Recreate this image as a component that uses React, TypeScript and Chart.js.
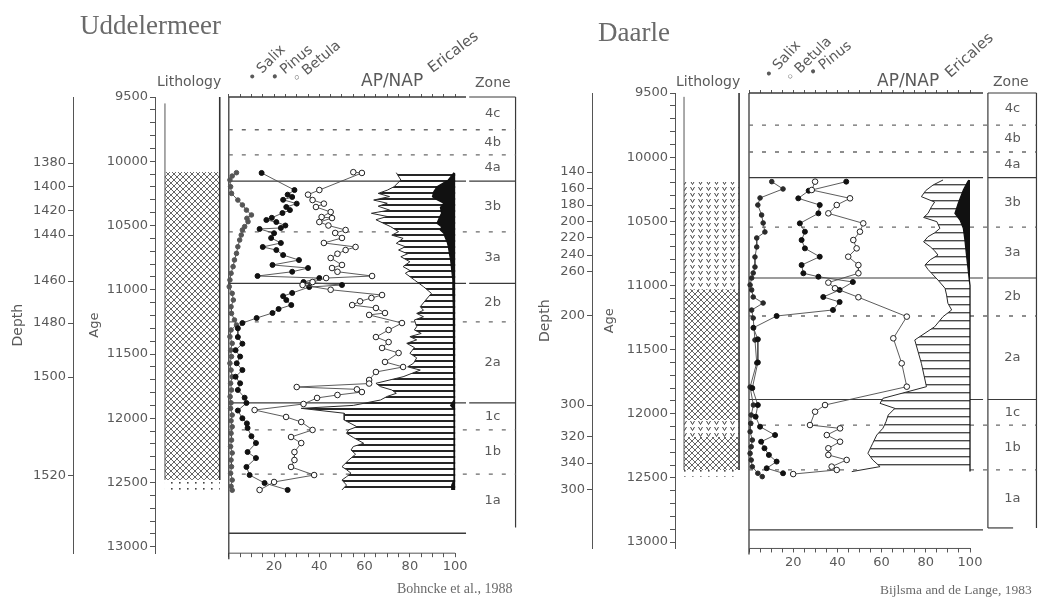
import React, { useEffect, useRef } from "react";
import { Chart, registerables } from "chart.js";

Chart.register(...registerables);

// ---------------- shared axis / zone definitions ----------------
const AGE_MIN = 9500;
const AGE_MAX = 13050;
const AGE_LABEL_STEP = 500;
const AGE_TICKS: number[] = [];
for (let a = 9500; a <= 13000; a += 100) AGE_TICKS.push(a);
const X_TICKS = [0, 5, 10, 15, 20, 25, 30, 35, 40, 45, 50, 55, 60, 65, 70, 75, 80, 85, 90, 95, 100];
const X_LABELS = [20, 40, 60, 80, 100];
const ZONE_NAMES = ["4c", "4b", "4a", "3b", "3a", "2b", "2a", "1c", "1b", "1a"];
const ZONE_BOUNDARY_SOLID = [false, false, true, false, true, false, true, false, false];

// ---------------- Uddelermeer ----------------
const U_ZONE_BOUNDS = [9500, 9755, 9950, 10155, 10550, 10950, 11250, 11880, 12090, 12435, 12850];
const U_DEPTH_LABELS = ["1380", "1400", "1420", "1440", "1460", "1480", "1500", "1520"];
const U_DEPTH_AGES = [10014, 10200, 10387, 10574, 10932, 11259, 11679, 12449];
const U_LITHO_TOP = [10084, 12480];
const U_LITHO_BOTTOM = [12480, 12575];
const U_LITHO_TYPE = ["cross", "dots"];

const U_SALIX_AGE = [10089, 10115, 10146, 10198, 10250, 10302, 10340, 10380, 10418, 10444, 10470, 10509, 10535, 10574, 10613, 10665, 10717, 10768, 10820, 10872, 10924, 10976, 11028, 11080, 11132, 11184, 11235, 11274, 11313, 11365, 11417, 11470, 11520, 11572, 11625, 11677, 11728, 11780, 11832, 11880, 11923, 11975, 12020, 12066, 12117, 12170, 12220, 12270, 12325, 12377, 12428, 12481, 12530, 12560];
const U_SALIX = [3.4, 1.5, 0.5, 0.8, 1.2, 4, 6, 7.8, 10, 8, 8.5, 7, 6, 5.5, 4.8, 4, 3.4, 2.5, 1.9, 1, 0.5, 0.2, 1.5, 2, 1, 1.2, 2.5, 3.4, 1, 0.5, 1.5, 0.8, 1.2, 0.5, 1, 1.5, 0.8, 1.2, 0.6, 1, 0.8, 1.5, 1, 1.5, 1, 1.2, 0.8, 1.5, 1, 1.2, 0.8, 1.5, 1, 1.5];

const U_PINUS_AGE = [10091, 10224, 10260, 10278, 10300, 10330, 10356, 10380, 10403, 10440, 10457, 10473, 10500, 10519, 10527, 10560, 10597, 10636, 10667, 10691, 10730, 10769, 10807, 10831, 10860, 10893, 10909, 10940, 10963, 10979, 11025, 11050, 11080, 11119, 11150, 11181, 11220, 11259, 11300, 11368, 11420, 11470, 11520, 11572, 11625, 11677, 11728, 11780, 11840, 11881, 11940, 12000, 12040, 12076, 12140, 12193, 12263, 12310, 12379, 12442, 12504, 12558];
const U_PINUS = [14.5, 29, 26, 28, 24, 30, 25.4, 27, 23.7, 19, 16.6, 21, 25, 23, 13.6, 20, 18.7, 23, 15, 21, 24, 31, 19.3, 35, 28, 12.7, 40, 33, 50, 35.5, 28, 24, 25.4, 27.6, 22, 19.3, 12.3, 6, 4, 4, 6, 3, 5, 3.5, 6, 3, 5, 4, 7, 7.8, 4, 6, 8, 8.3, 10, 12, 8.3, 12, 7.8, 9.2, 15.8, 26];

const U_BETULA_AGE = [10085, 10091, 10224, 10260, 10302, 10330, 10356, 10395, 10434, 10442, 10473, 10500, 10535, 10558, 10597, 10636, 10667, 10691, 10720, 10753, 10807, 10831, 10860, 10893, 10909, 10940, 10963, 11000, 11041, 11064, 11090, 11119, 11142, 11181, 11196, 11259, 11313, 11368, 11407, 11453, 11492, 11562, 11601, 11640, 11702, 11730, 11757, 11775, 11796, 11819, 11842, 11889, 11936, 11990, 12029, 12091, 12146, 12193, 12263, 12325, 12379, 12442, 12496, 12558];
const U_BETULA = [55, 58.8, 40, 35, 37, 42, 38.5, 45, 41, 45.6, 40, 44, 51.6, 47, 50, 42, 56, 51.6, 48, 45, 50, 45.6, 48, 63.3, 43, 37, 32.6, 45, 67.7, 63, 58, 54.5, 65, 69, 62, 76.5, 70.6, 65, 70.6, 67.7, 75, 69, 77, 65, 62, 62, 30, 56.6, 58.8, 48, 39, 33, 11.4, 25.3, 32, 37, 27.5, 32, 29, 29, 27.5, 37.7, 20, 13.6];

const U_AP_AGE = [10089, 10146, 10198, 10225, 10250, 10275, 10302, 10327, 10350, 10380, 10405, 10430, 10455, 10480, 10509, 10548, 10575, 10600, 10639, 10665, 10691, 10720, 10743, 10782, 10820, 10850, 10872, 10924, 10976, 11028, 11080, 11132, 11160, 11184, 11210, 11235, 11287, 11313, 11340, 11365, 11390, 11417, 11450, 11495, 11530, 11572, 11600, 11625, 11677, 11728, 11754, 11780, 11806, 11830, 11858, 11900, 11923, 11961, 12014, 12066, 12090, 12117, 12150, 12195, 12220, 12247, 12280, 12325, 12377, 12400, 12428, 12455, 12481, 12520, 12558];
const U_AP = [74, 76, 73, 70, 66, 71, 64, 70, 66, 71, 63, 70, 65, 68, 71.5, 75, 72, 77, 74, 78, 75, 79, 76, 80, 77, 80, 78, 82, 86, 89.5, 87, 84.6, 86, 83, 86, 82, 83, 82, 85, 80, 83, 78.6, 82, 80, 83, 81.6, 79, 84.6, 77, 65, 67, 72, 74, 70, 67, 55, 32, 51, 51, 56.6, 53, 52, 55, 59.6, 55, 54, 56, 53, 50, 52, 54, 52, 50, 52, 50];

const U_ERIC_AGE = [10089, 10146, 10198, 10240, 10276, 10300, 10327, 10360, 10405, 10440, 10483, 10510, 10535, 10560, 10587, 10630, 10665, 10720, 10768, 10850, 10924, 11028, 11132, 11235, 11400, 11600, 11858, 11900, 11930, 12100, 12300, 12481, 12520, 12558];
const U_ERIC = [0.5, 3, 8, 9.5, 10, 8, 5, 6.5, 6, 7, 8, 6, 6.5, 5, 4.5, 3.5, 3, 2.5, 2, 1.5, 1, 1, 0.8, 0.8, 0.6, 0.6, 0.5, 2, 0.5, 0.5, 0.5, 0.5, 1.5, 1.5];

// ---------------- Daarle ----------------
const D_ZONE_BOUNDS = [9500, 9750, 9960, 10160, 10545, 10942, 11238, 11889, 12088, 12438, 12890];
const D_DEPTH_LABELS = ["140", "160", "180", "200", "220", "240", "260", "200", "300", "320", "340", "300"];
const D_DEPTH_AGES = [10116, 10248, 10373, 10505, 10630, 10763, 10895, 11238, 11932, 12181, 12384, 12594];
const D_LITHO_TOP = [10194, 11035, 12049, 12181, 12438];
const D_LITHO_BOTTOM = [11035, 12049, 12181, 12438, 12490];
const D_LITHO_TYPE = ["v", "cross", "v", "cross", "dots"];

const D_SALIX_AGE = [10191, 10248, 10318, 10373, 10451, 10513, 10583, 10630, 10700, 10778, 10856, 10903, 10942, 10996, 11035, 11090, 11137, 11192, 11254, 11425, 11604, 11792, 11932, 12010, 12075, 12140, 12205, 12257, 12309, 12361, 12413, 12464, 12490];
const D_SALIX = [10.3, 15.4, 5, 4, 5.7, 6.4, 7.2, 3.5, 3.5, 2.7, 2.7, 1.9, 1.2, 0.5, 1.2, 1.9, 6.4, 1.2, 1.9, 2.7, 3.5, 0.5, 2, 1, 0.8, 0.5, 1.5, 1, 0.5, 1, 1.5, 4, 6];

const D_PINUS_AGE = [10191, 10262, 10321, 10373, 10438, 10516, 10581, 10646, 10711, 10776, 10841, 10905, 10932, 10973, 11035, 11090, 11129, 11191, 11238, 11330, 11420, 11600, 11800, 11932, 12023, 12101, 12166, 12218, 12269, 12321, 12373, 12425, 12464];
const D_PINUS = [44, 27, 22.3, 32, 31.4, 23, 25.3, 23.8, 25.3, 32, 23.8, 24.6, 31.4, 47, 41, 33.6, 41, 38, 12.5, 2, 4, 4, 1.5, 4, 3, 5, 11.8, 5.5, 7, 9, 12.5, 8, 15.4];

const D_BETULA_AGE = [10191, 10256, 10321, 10373, 10438, 10516, 10581, 10646, 10711, 10776, 10841, 10905, 10978, 11022, 11092, 11243, 11412, 11607, 11789, 11932, 11984, 12088, 12114, 12166, 12218, 12269, 12321, 12360, 12412, 12438, 12470];
const D_BETULA = [29.9, 28.4, 45.7, 39.7, 35.9, 51.7, 50.2, 47.2, 48.7, 44.9, 49.5, 49.5, 35.9, 38.9, 49.5, 71.4, 65.3, 69.1, 71.4, 34.4, 29.9, 27.6, 41.2, 35.2, 41.2, 35.9, 35.9, 44.2, 37.4, 39.7, 20];

const D_AP_AGE = [10178, 10217, 10260, 10308, 10350, 10386, 10438, 10470, 10503, 10555, 10590, 10620, 10660, 10698, 10730, 10763, 10800, 10841, 10875, 10905, 10958, 11022, 11074, 11139, 11191, 11243, 11322, 11425, 11607, 11789, 11880, 11919, 11958, 12010, 12062, 12113, 12166, 12230, 12308, 12360, 12412, 12451];
const D_AP = [87.8, 83.3, 80, 78, 84, 82.6, 81, 79, 85, 86.4, 84, 81, 79, 82, 84, 85.5, 82, 79.6, 81, 82.6, 85.5, 88.7, 89.4, 90, 91.7, 87.8, 84, 75, 78, 80.3, 60.6, 59.3, 66, 63, 62, 60.6, 57.8, 56, 53.8, 56, 59.3, 46.5];

const D_ERIC_AGE = [10178, 10191, 10256, 10360, 10438, 10490, 10555, 10646, 10776, 10880, 10958, 11000, 11500, 12451];
const D_ERIC = [0.5, 1, 3, 5.3, 6.8, 4.5, 3, 2.3, 1.5, 0.8, 0.3, 0, 0, 0];

// ---------------- panel layouts ----------------
const UDDEL = {
  canvasLeft: 0, canvasWidth: 521,
  depthAxisX: 73, ageAxisX: 155, x0Px: 229, x100Px: 456, zoneRightPx: 517,
  top9500: 97, pxPerYear: 0.1285,
  lithoX: [-28.2, -4.0], lithoLeftTop: 9550, lithoLineEnd: 12480,
  plotRightX: 104.8, zoneX: [106.2, 126.9], zoneLeftLine: false, zoneFootTo: null as number | null,
  baseLineAge: 12895,
  zoneBounds: U_ZONE_BOUNDS, depthLabels: U_DEPTH_LABELS, depthAges: U_DEPTH_AGES,
  lithoTop: U_LITHO_TOP, lithoBottom: U_LITHO_BOTTOM, lithoType: U_LITHO_TYPE,
  salix: [U_SALIX_AGE, U_SALIX], pinus: [U_PINUS_AGE, U_PINUS], betula: [U_BETULA_AGE, U_BETULA],
  ap: [U_AP_AGE, U_AP], eric: [U_ERIC_AGE, U_ERIC],
  ageTitlePad: 14, depthTitlePad: 10,
  hatch: { gap: 6, line: 2, color: "#262626" },
  salixColor: "#555555",
};

const DAARLE = {
  canvasLeft: 521, canvasWidth: 522,
  depthAxisX: 592, ageAxisX: 675, x0Px: 749, x100Px: 970, zoneRightPx: 1037,
  top9500: 93, pxPerYear: 0.1283,
  lithoX: [-29.4, -4.5], lithoLeftTop: 9530, lithoLineEnd: 12438,
  plotRightX: 105.9, zoneX: [108.1, 130.3], zoneLeftLine: true, zoneFootTo: 119.5 as number | null,
  baseLineAge: 12905,
  zoneBounds: D_ZONE_BOUNDS, depthLabels: D_DEPTH_LABELS, depthAges: D_DEPTH_AGES,
  lithoTop: D_LITHO_TOP, lithoBottom: D_LITHO_BOTTOM, lithoType: D_LITHO_TYPE,
  salix: [D_SALIX_AGE, D_SALIX], pinus: [D_PINUS_AGE, D_PINUS], betula: [D_BETULA_AGE, D_BETULA],
  ap: [D_AP_AGE, D_AP], eric: [D_ERIC_AGE, D_ERIC],
  ageTitlePad: 10, depthTitlePad: 16,
  hatch: { gap: 8, line: 1.4, color: "#4a4a4a" },
  salixColor: "#2a2a2a",
};

const FONT = "DejaVu Sans";
const TEXT = "#5a5a5a";
const LINE = "#3a3a3a";

function pts(ages: number[], vals: number[]) {
  return ages.map((a, i) => ({ x: vals[i], y: a }));
}

function makePatterns(ctx: CanvasRenderingContext2D, hatch: any) {
  const mk = (w: number, h: number, draw: (g: CanvasRenderingContext2D) => void) => {
    const c = document.createElement("canvas");
    c.width = w;
    c.height = h;
    const g = c.getContext("2d")!;
    g.fillStyle = "#fff";
    g.fillRect(0, 0, w, h);
    draw(g);
    return ctx.createPattern(c, "repeat")!;
  };
  return {
    cross: mk(6, 6, (g) => {
      g.strokeStyle = "#555";
      g.lineWidth = 0.9;
      g.beginPath();
      g.moveTo(-1, -1); g.lineTo(7, 7);
      g.moveTo(7, -1); g.lineTo(-1, 7);
      g.stroke();
    }),
    v: mk(8, 6, (g) => {
      g.strokeStyle = "#444";
      g.lineWidth = 1;
      g.beginPath();
      g.moveTo(1.5, 1); g.lineTo(3.5, 4.5); g.lineTo(5.5, 1);
      g.stroke();
    }),
    dots: mk(8, 6, (g) => {
      g.fillStyle = "#444";
      g.fillRect(3, 2, 1.6, 1.6);
    }),
    hatch: mk(8, hatch.gap, (g) => {
      g.fillStyle = hatch.color;
      g.fillRect(0, 0, 8, hatch.line);
    }),
  } as Record<string, CanvasPattern>;
}

function Panel({ cfg }: { cfg: typeof UDDEL }) {
  const ref = useRef<HTMLCanvasElement>(null);
  useEffect(() => {
    const canvas = ref.current!;
    const ctx = canvas.getContext("2d")!;
    const patterns = makePatterns(ctx, cfg.hatch);
    const ppu = (cfg.x100Px - cfg.x0Px) / 100;
    const xMin = (cfg.ageAxisX - cfg.x0Px) / ppu;
    const xMax = (cfg.zoneRightPx - cfg.x0Px) / ppu;
    const chartBottom = cfg.top9500 + (AGE_MAX - AGE_MIN) * cfg.pxPerYear;
    const topAxisH = 4;
    const bottomAxisH = 22;
    const depthW = cfg.depthAxisX - cfg.canvasLeft;
    const ageW = cfg.ageAxisX - cfg.depthAxisX;

    const line = (x1: number, y1: number, x2: number, y2: number, w = 1, c = LINE) => {
      ctx.strokeStyle = c;
      ctx.lineWidth = w;
      ctx.beginPath();
      ctx.moveTo(x1, y1);
      ctx.lineTo(x2, y2);
      ctx.stroke();
    };

    const decor = {
      id: "decor",
      beforeDatasetsDraw(chart: any) {
        const area = chart.chartArea;
        const xs = chart.scales.x;
        const ys = chart.scales.y;
        const X = (v: number) => xs.getPixelForValue(v);
        const Y = (a: number) => ys.getPixelForValue(a);
        ctx.save();
        // lithology column
        const lx1 = X(cfg.lithoX[0]);
        const lx2 = X(cfg.lithoX[1]);
        cfg.lithoTop.forEach((t, i) => {
          ctx.fillStyle = patterns[cfg.lithoType[i]];
          ctx.fillRect(lx1, Y(t), lx2 - lx1, Y(cfg.lithoBottom[i]) - Y(t));
        });
        line(lx1, Y(cfg.lithoLeftTop), lx1, Y(cfg.lithoLineEnd), 1, "#555");
        line(lx2, Y(AGE_MIN), lx2, Y(cfg.lithoLineEnd), 1.6, "#333");
        // plot frame
        const p0 = X(0);
        const pR = X(cfg.plotRightX);
        line(p0, area.top, p0, area.bottom + 6, 1.3);
        line(p0, area.top, pR, area.top, 1.3);
        line(p0, area.bottom, X(100), area.bottom, 1, "#555");
        line(p0, Y(cfg.baseLineAge), pR, Y(cfg.baseLineAge), 1.3);
        // zone column
        const z0 = X(cfg.zoneX[0]);
        const z1 = X(cfg.zoneX[1]) - 0.5;
        const zb = cfg.zoneBounds;
        const zLast = Y(zb[zb.length - 1]);
        line(z0, Y(AGE_MIN), z1, Y(AGE_MIN), 1.2);
        line(z1, Y(AGE_MIN), z1, zLast, 1.2);
        if (cfg.zoneLeftLine) line(z0, Y(AGE_MIN), z0, zLast, 1.2);
        if (cfg.zoneFootTo !== null) line(z0, zLast, X(cfg.zoneFootTo), zLast, 1.2);
        for (let i = 1; i < zb.length - 1; i++) {
          const y = Y(zb[i]);
          if (ZONE_BOUNDARY_SOLID[i - 1]) {
            line(p0, y, pR, y, 1.2);
            line(z0, y, z1, y, 1.2);
          } else {
            ctx.setLineDash([4, 9]);
            line(p0, y, z1, y, 1.3, "#6a6a6a");
            ctx.setLineDash([]);
          }
        }
        ctx.restore();
      },
      afterDatasetsDraw(chart: any) {
        const xs = chart.scales.x;
        const ys = chart.scales.y;
        const zb = cfg.zoneBounds;
        ctx.save();
        ctx.font = `13px "${FONT}"`;
        ctx.fillStyle = TEXT;
        ctx.textAlign = "center";
        ctx.textBaseline = "middle";
        const cx = xs.getPixelForValue((cfg.zoneX[0] + cfg.zoneX[1]) / 2);
        ZONE_NAMES.forEach((n, i) => {
          const y = (ys.getPixelForValue(zb[i]) + ys.getPixelForValue(zb[i + 1])) / 2;
          ctx.fillText(n, cx, y);
        });
        ctx.restore();
      },
    };

    const tickFont = { family: FONT, size: 13 };
    const curve = (label: string, d: number[][], fill: string, stroke: string, r: number) => ({
      label,
      data: pts(d[0], d[1]),
      xAxisID: "x",
      yAxisID: "y",
      borderColor: "#4a4a4a",
      borderWidth: 0.9,
      pointRadius: r,
      pointBackgroundColor: fill,
      pointBorderColor: stroke,
      pointBorderWidth: 1,
      fill: false,
      tension: 0,
    });

    const chart = new Chart(ctx, {
      type: "line",
      data: {
        datasets: [
          curve("Betula", cfg.betula, "#ffffff", "#222", 2.8),
          curve("Pinus", cfg.pinus, "#111111", "#111", 2.5),
          curve("Salix", cfg.salix, cfg.salixColor, cfg.salixColor, 2.3),
          {
            label: "Ericales",
            data: pts(cfg.eric[0], cfg.eric[1].map((e) => 100 - e)),
            xAxisID: "x",
            yAxisID: "y",
            borderColor: "#111",
            borderWidth: 1.3,
            pointRadius: 0,
            backgroundColor: "#111",
            fill: { value: 100 },
            tension: 0,
          },
          {
            label: "AP/NAP",
            data: pts(cfg.ap[0], cfg.ap[1]),
            xAxisID: "x",
            yAxisID: "y",
            borderColor: "#2a2a2a",
            borderWidth: 1,
            pointRadius: 0,
            backgroundColor: patterns.hatch,
            fill: { value: 100 },
            tension: 0,
          },
        ],
      } as any,
      options: {
        responsive: false,
        animation: false,
        devicePixelRatio: 1,
        events: [],
        indexAxis: "y",
        layout: {
          padding: {
            top: cfg.top9500 - topAxisH,
            bottom: 603 - chartBottom - bottomAxisH,
            left: 0,
            right: cfg.canvasWidth - (cfg.zoneRightPx - cfg.canvasLeft),
          },
        },
        plugins: { legend: { display: false }, tooltip: { enabled: false }, title: { display: false } },
        scales: {
          x: {
            type: "linear", axis: "x", position: "bottom", min: xMin, max: xMax,
            afterBuildTicks: (s: any) => { s.ticks = X_TICKS.map((v) => ({ value: v })); },
            afterFit: (s: any) => { s.height = bottomAxisH; },
            ticks: {
              autoSkip: false, maxRotation: 0, minRotation: 0, padding: 2, color: TEXT, font: tickFont,
              callback: (v: any) => (X_LABELS.includes(Number(v)) ? String(v) : ""),
            },
            grid: { drawOnChartArea: false, drawTicks: true, tickLength: 4, color: "#555" },
            border: { display: false },
          },
          xTop: {
            type: "linear", axis: "x", position: "top", min: xMin, max: xMax,
            afterBuildTicks: (s: any) => { s.ticks = X_TICKS.map((v) => ({ value: v })); },
            afterFit: (s: any) => { s.height = topAxisH; },
            ticks: { display: false },
            grid: { drawOnChartArea: false, drawTicks: true, tickLength: 3, color: "#555" },
            border: { display: false },
          },
          y: {
            type: "linear", axis: "y", position: "left", reverse: true, min: AGE_MIN, max: AGE_MAX, weight: 0,
            afterBuildTicks: (s: any) => { s.ticks = AGE_TICKS.map((v) => ({ value: v })); },
            afterFit: (s: any) => { s.width = ageW; },
            ticks: {
              autoSkip: false, padding: 2, color: TEXT, font: tickFont,
              callback: (v: any) => (Number(v) % AGE_LABEL_STEP === 0 ? String(v) : ""),
            },
            grid: { drawOnChartArea: false, drawTicks: true, tickLength: 5, color: "#555" },
            border: { display: true, color: "#555", width: 1 },
            title: {
              display: true, text: "Age", color: TEXT, font: { family: FONT, size: 13 },
              padding: { top: cfg.ageTitlePad, bottom: 0 },
            },
          },
          depth: {
            type: "linear", axis: "y", position: "left", reverse: true, min: AGE_MIN, max: AGE_MAX, weight: 1,
            afterBuildTicks: (s: any) => { s.ticks = cfg.depthAges.map((v) => ({ value: v })); },
            afterFit: (s: any) => { s.width = depthW; },
            ticks: {
              autoSkip: false, padding: 2, color: TEXT, font: tickFont,
              callback: (_v: any, i: number) => cfg.depthLabels[i],
            },
            grid: { drawOnChartArea: false, drawTicks: true, tickLength: 5, color: "#555" },
            border: { display: true, color: "#555", width: 1 },
            title: {
              display: true, text: "Depth", color: TEXT, font: { family: FONT, size: 14 },
              padding: { top: cfg.depthTitlePad, bottom: 0 },
            },
          },
        },
      } as any,
      plugins: [decor],
    });
    return () => chart.destroy();
  }, [cfg]);

  return (
    <canvas
      ref={ref}
      width={cfg.canvasWidth}
      height={603}
      style={{ position: "absolute", left: cfg.canvasLeft, top: 0, width: cfg.canvasWidth, height: 603 }}
    />
  );
}

type Lbl = { text: string; x: number; y: number; size: number; serif?: boolean; rot?: number; color?: string };

const LABELS: Lbl[] = [
  { text: "Uddelermeer", x: 80, y: 35, size: 27, serif: true, color: "#6a6a6a" },
  { text: "Lithology", x: 157, y: 86, size: 14 },
  { text: "• Salix", x: 253, y: 83, size: 14, rot: -45 },
  { text: "• Pinus", x: 275, y: 83, size: 14, rot: -40 },
  { text: "◦ Betula", x: 297, y: 84, size: 14, rot: -40 },
  { text: "AP/NAP", x: 361, y: 86, size: 17 },
  { text: "Ericales", x: 433, y: 74, size: 15, rot: -37 },
  { text: "Zone", x: 475, y: 87, size: 14 },
  { text: "Bohncke et al., 1988", x: 397, y: 594, size: 14, serif: true, color: "#6a6a6a" },
  { text: "Daarle", x: 598, y: 42, size: 27, serif: true, color: "#6a6a6a" },
  { text: "Lithology", x: 676, y: 86, size: 14 },
  { text: "• Salix", x: 770, y: 80, size: 14, rot: -48 },
  { text: "◦ Betula", x: 791, y: 83, size: 14, rot: -45 },
  { text: "• Pinus", x: 813, y: 78, size: 14, rot: -38 },
  { text: "AP/NAP", x: 877, y: 86, size: 17 },
  { text: "Ericales", x: 951, y: 79, size: 15, rot: -42 },
  { text: "Zone", x: 993, y: 86, size: 14 },
  { text: "Bijlsma and de Lange, 1983", x: 880, y: 594, size: 13.5, serif: true, color: "#6a6a6a" },
];

export default function App() {
  return (
    <div style={{ position: "absolute", left: 0, top: 0, width: 1043, height: 603, background: "#fff", overflow: "hidden" }}>
      <Panel cfg={UDDEL} />
      <Panel cfg={DAARLE} />
      {LABELS.map((l, i) => {
        const k = l.serif ? 0.8375 : 0.846;
        return (
          <div
            key={i}
            style={{
              position: "absolute",
              left: l.x,
              top: l.y - k * l.size,
              fontFamily: l.serif ? '"Liberation Serif", "Times New Roman", serif' : `"${FONT}", sans-serif`,
              fontSize: l.size,
              lineHeight: `${l.size}px`,
              color: l.color || TEXT,
              whiteSpace: "nowrap",
              transformOrigin: `0px ${k * l.size}px`,
              transform: l.rot ? `rotate(${l.rot}deg)` : undefined,
            }}
          >
            {l.text}
          </div>
        );
      })}
    </div>
  );
}
